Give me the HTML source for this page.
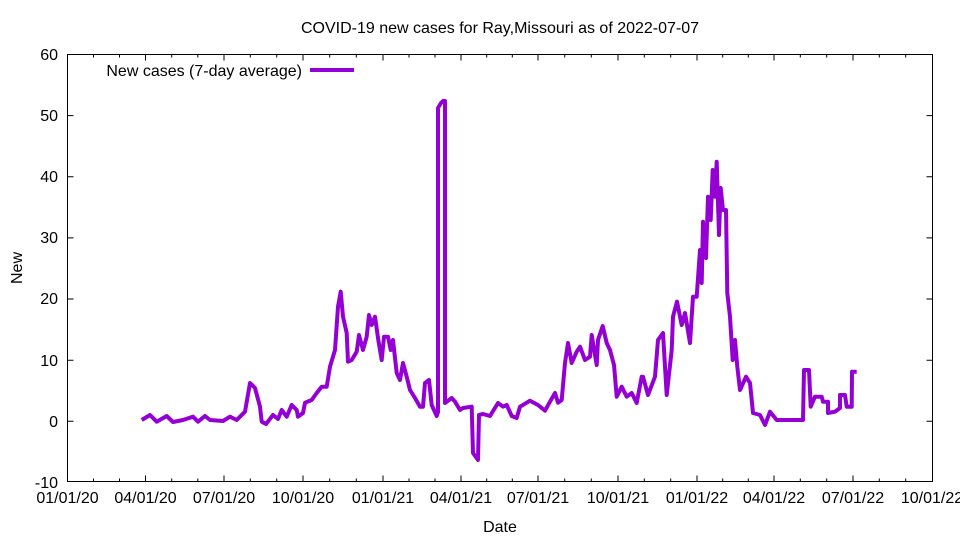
<!DOCTYPE html>
<html><head><meta charset="utf-8"><style>body{margin:0;background:#fff}svg{display:block}text{font-family:"Liberation Sans",sans-serif;font-size:16px;fill:#000}</style></head><body>
<svg width="960" height="540" xmlns="http://www.w3.org/2000/svg">
<g stroke="#000" stroke-width="1" fill="none">
<rect x="67.5" y="54.5" width="865" height="427"/>
<path d="M67.5,54.5h6M932.5,54.5h-6M67.5,115.6h6M932.5,115.6h-6M67.5,176.8h6M932.5,176.8h-6M67.5,237.9h6M932.5,237.9h-6M67.5,299h6M932.5,299h-6M67.5,360.2h6M932.5,360.2h-6M67.5,421.3h6M932.5,421.3h-6"/>
<path d="M145.5,481.5v-6M145.5,54.5v6M224,481.5v-6M224,54.5v6M303,481.5v-6M303,54.5v6M383,481.5v-6M383,54.5v6M461,481.5v-6M461,54.5v6M538,481.5v-6M538,54.5v6M618,481.5v-6M618,54.5v6M697,481.5v-6M697,54.5v6M774,481.5v-6M774,54.5v6M853,481.5v-6M853,54.5v6"/>
<path d="M93.5,481.5v-3M93.5,54.5v3M119.5,481.5v-3M119.5,54.5v3M171.7,481.5v-3M171.7,54.5v3M197.8,481.5v-3M197.8,54.5v3M250.3,481.5v-3M250.3,54.5v3M276.7,481.5v-3M276.7,54.5v3M329.7,481.5v-3M329.7,54.5v3M356.3,481.5v-3M356.3,54.5v3M409,481.5v-3M409,54.5v3M435,481.5v-3M435,54.5v3M486.7,481.5v-3M486.7,54.5v3M512.3,481.5v-3M512.3,54.5v3M564.7,481.5v-3M564.7,54.5v3M591.3,481.5v-3M591.3,54.5v3M644.3,481.5v-3M644.3,54.5v3M670.7,481.5v-3M670.7,54.5v3M722.7,481.5v-3M722.7,54.5v3M748.3,481.5v-3M748.3,54.5v3M800.3,481.5v-3M800.3,54.5v3M826.7,481.5v-3M826.7,54.5v3M879.3,481.5v-3M879.3,54.5v3M905.7,481.5v-3M905.7,54.5v3"/>
</g>
<g text-anchor="end">
<text x="58" y="60">60</text><text x="58" y="121">50</text><text x="58" y="182">40</text><text x="58" y="243">30</text><text x="58" y="304">20</text><text x="58" y="366">10</text><text x="58" y="427">0</text><text x="58" y="488">-10</text>
</g>
<g text-anchor="middle">
<text x="67.5" y="503">01/01/20</text><text x="145.5" y="503">04/01/20</text><text x="224" y="503">07/01/20</text><text x="303" y="503">10/01/20</text><text x="383" y="503">01/01/21</text><text x="461" y="503">04/01/21</text><text x="538" y="503">07/01/21</text><text x="618" y="503">10/01/21</text><text x="697" y="503">01/01/22</text><text x="774" y="503">04/01/22</text><text x="853" y="503">07/01/22</text><text x="932" y="503">10/01/22</text>
<text x="500" y="33">COVID-19 new cases for Ray,Missouri as of 2022-07-07</text>
<text x="500" y="532">Date</text>
<text transform="translate(22,268) rotate(-90)">New</text>
</g>
<text x="302" y="76" text-anchor="end">New cases (7-day average)</text>
<path d="M310,70H354" stroke="#9400d3" stroke-width="4"/>
<polyline fill="none" stroke="#9400d3" stroke-width="4" stroke-linejoin="round" points="141.7,420 150,415 156.7,421.7 166.7,416 173,422 183,420 193,416.7 198,421.7 205,416 210,420 223,421 230,416.7 236.7,420 245,411.7 250,383 255,388 260,406.7 261.7,421.7 266,424 273,415 278,419 281.7,410 286.7,416.7 291.7,405 296.7,410 298,416.7 303,413 305,402.7 311.7,400 316.7,393 321.7,386.7 326.7,386.7 330,366.7 335,350 338,306.7 340.7,291.7 343,316.7 346.7,333 348,361.7 351.7,360 356.7,351.7 359,335 363,350 366.7,336.7 369,315 371.7,325 375,316.7 378.3,340 381.7,360 384,336.7 388,336.7 390.7,350 393,340 396.7,373 400,380 403,363 406.7,376.7 410,390 415,398 420,406.7 423,406.7 425,383 429,380 431.7,405 436.7,416 438,412 438,108 441,103 443,101 445,101 445,403 451.7,398 455,401.7 460,410 463,408 471.7,406.7 473,453 478,460 479,415 483,414 490,416 498,403 503,406.7 506.7,405 511.7,416 516.7,418 520,406.7 530,400.7 538,405 545,410.7 550,401.7 555,393 558,402.7 561.7,400 565,363 568,343 571.7,363 576.7,351.7 580,346.7 585,360 590,356.7 591.7,335 596.7,365 598,340 602.7,326 606.7,343 610,350 614,365 616.7,396.7 621.7,386.7 626.7,396.7 631.7,393 636.7,403 641.7,376.7 643,376.7 648,395 655,376.7 658,340 663,333 666.7,395 671.7,350 673,316.7 677,301.7 681.7,325 685,313 690,343 693,296.7 696.7,296.7 700,250 701.7,283 703,221.7 706,258 708,196.7 710.7,220 712.7,170 715,196.7 716.7,161.7 719,235 720.7,188 723,210 726,210 727.3,293 730,316.7 732.7,360 735,340 737.3,366.7 740,390 746,376.7 750,383 753,413 760,415 765,425 770,411.7 776.7,420 803,420 804,370 809,370 810.7,406.7 815,396.7 821.7,396.7 823,401.7 828,401.7 828,413 835,411.7 840,408 840,395 845,395 846.7,406.7 851.7,406.7 852,371.7 856.7,371.7"/>
</svg>
</body></html>
